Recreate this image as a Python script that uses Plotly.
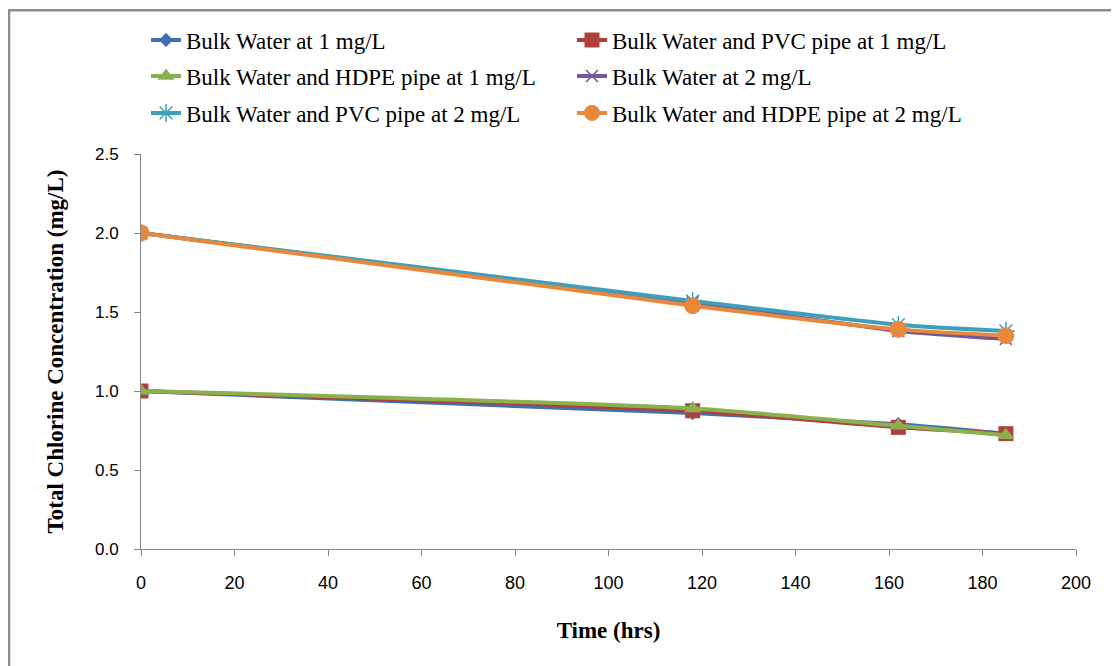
import plotly.graph_objects as go

time_hrs = [0, 118, 162, 185]
bulk_1 = [1.00, 0.86, 0.79, 0.73]
pvc_1 = [1.00, 0.875, 0.77, 0.73]
hdpe_1 = [1.00, 0.89, 0.78, 0.72]
bulk_2 = [2.00, 1.56, 1.38, 1.33]
pvc_2 = [2.00, 1.57, 1.42, 1.38]
hdpe_2 = [2.00, 1.54, 1.39, 1.35]

names = [
    "Bulk Water at 1 mg/L",
    "Bulk Water and PVC pipe at 1 mg/L",
    "Bulk Water and HDPE pipe at 1 mg/L",
    "Bulk Water at 2 mg/L",
    "Bulk Water and PVC pipe at 2 mg/L",
    "Bulk Water and HDPE pipe at 2 mg/L",
]
series = [bulk_1, pvc_1, hdpe_1, bulk_2, pvc_2, hdpe_2]
colors = ["#3F6FB0", "#B0403D", "#8BB04E", "#71589A", "#3E9FBB", "#E8883D"]
symbols = ["diamond", "square", "triangle-up", "x-thin", "asterisk-open", "circle"]
sizes = [11, 15, 15, 12, 15, 17]
legend_ids = ["legend", "legend", "legend2", "legend2", "legend3", "legend3"]

fig = go.Figure()
for n, s, c, sym, sz, lg in zip(names, series, colors, symbols, sizes, legend_ids):
    marker = dict(symbol=sym, size=sz, color=c)
    if sym in ("x-thin", "asterisk-open"):
        marker["line"] = dict(color=c, width=1.5)
    fig.add_trace(go.Scatter(
        x=time_hrs, y=s, name=n, mode="lines+markers",
        line=dict(color=c, width=4, shape="spline", smoothing=0.6),
        marker=marker, legend=lg,
    ))

# page is offset by the 8px body margin
OFF = 8
W, H = 1119 - OFF, 666 - OFF
L, R, T, B = 141 - OFF, 43, 153 - OFF, 117
pw, ph = W - L - R, H - T - B

def py(page_y):
    return (H - B - (page_y - OFF)) / ph

def px(page_x):
    return (page_x - OFF - L) / pw

leg_common = dict(
    orientation="h", xanchor="left", yanchor="middle",
    entrywidth=381, entrywidthmode="pixels",
    font=dict(family="Liberation Serif", size=23, color="black"),
    bgcolor="rgba(0,0,0,0)",
)

fig.update_layout(
    width=W, height=H,
    margin=dict(l=L, r=R, t=T, b=B),
    paper_bgcolor="white", plot_bgcolor="white",
    showlegend=True,
    legend=dict(leg_common, x=px(146), y=py(40)),
    legend2=dict(leg_common, x=px(146), y=py(76)),
    legend3=dict(leg_common, x=px(146), y=py(113)),
    xaxis=dict(
        range=[0, 200], tickmode="array",
        tickvals=list(range(0, 201, 20)),
        ticks="outside", ticklen=6, tickcolor="#868686",
        showline=True, linecolor="#868686", linewidth=1,
        showgrid=False, zeroline=False, ticklabelstandoff=11,
        tickfont=dict(family="Liberation Sans Narrow, Liberation Sans", size=18, color="black"),
        title=dict(text="<b>Time (hrs)</b>", font=dict(family="Liberation Serif", size=23, color="black"), standoff=30),
    ),
    yaxis=dict(
        range=[0, 2.5], tickmode="array",
        tickvals=[0, 0.5, 1.0, 1.5, 2.0, 2.5], tickformat=".1f",
        ticks="outside", ticklen=6, tickcolor="#868686",
        showline=True, linecolor="#868686", linewidth=1,
        showgrid=False, zeroline=False, ticklabelstandoff=12,
        tickfont=dict(family="Liberation Sans", size=17, color="black"),
        title=dict(text="<b>Total Chlorine Concentration (mg/L)</b>", font=dict(family="Liberation Serif", size=23, color="black"), standoff=24),
    ),
    shapes=[dict(
        type="rect", xref="paper", yref="paper",
        x0=px(9), x1=px(1125),
        y0=py(672), y1=py(9),
        line=dict(color="#8C8C8C", width=2.5), fillcolor="rgba(0,0,0,0)", layer="below",
    )],
)

fig.write_html("out.html")
